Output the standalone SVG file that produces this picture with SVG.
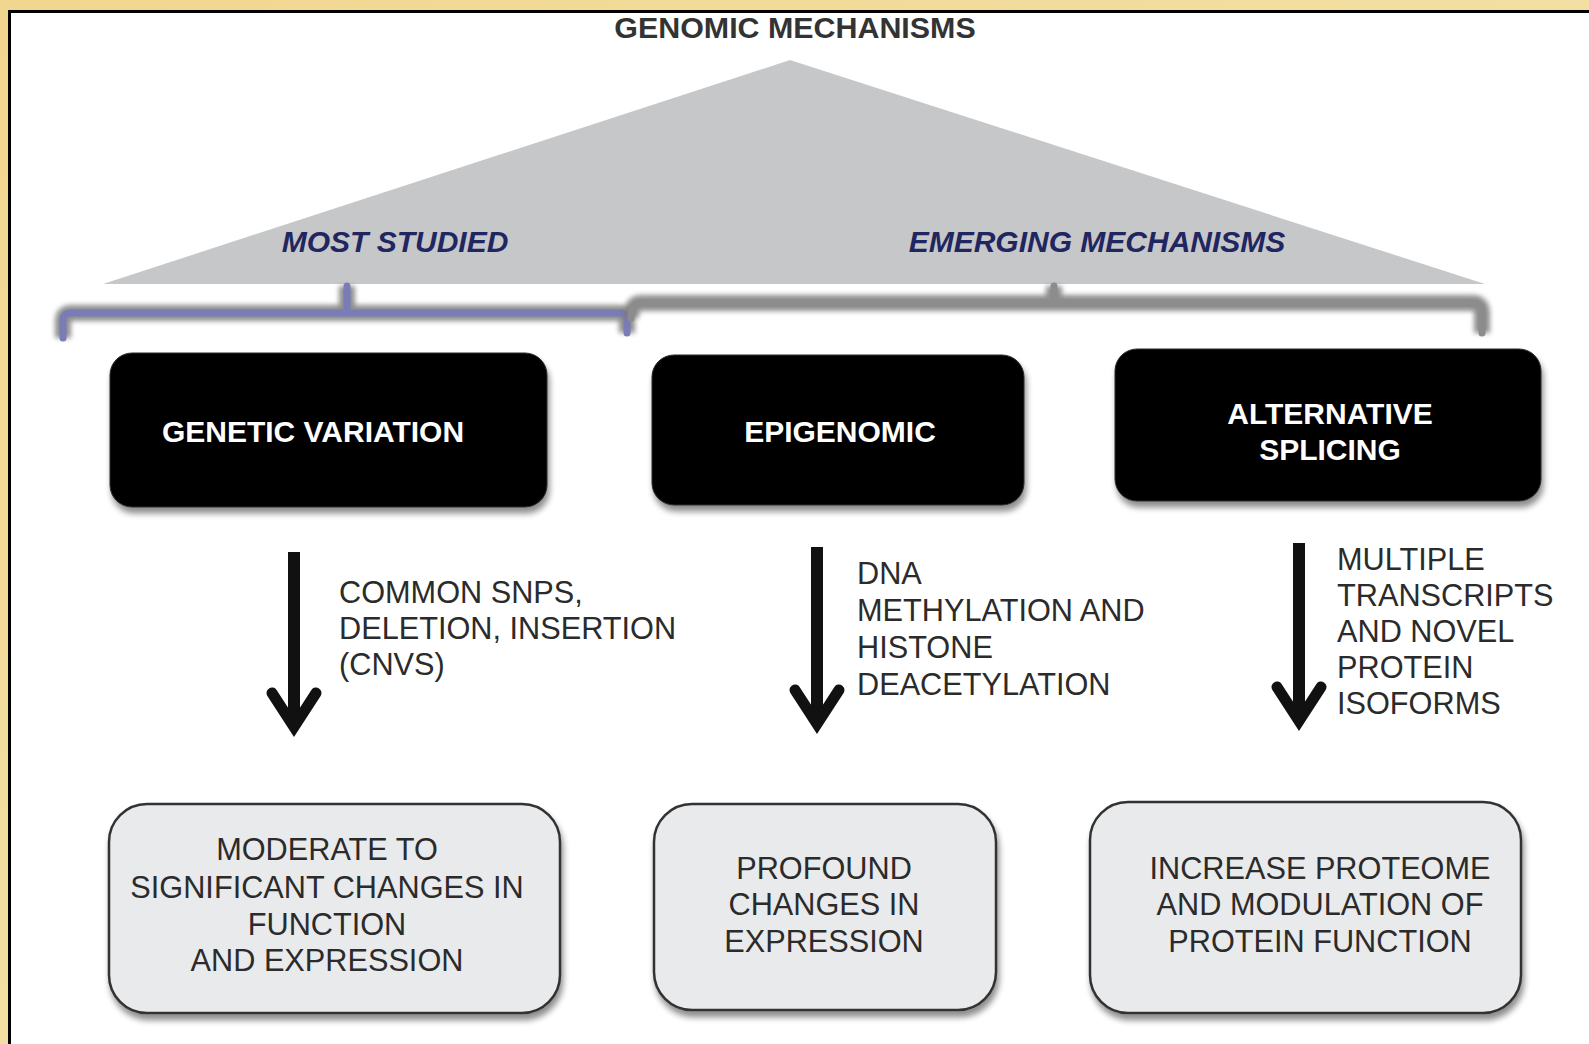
<svg xmlns="http://www.w3.org/2000/svg" width="1589" height="1044" viewBox="0 0 1589 1044">
<defs>
<linearGradient id="bg" x1="0" y1="0" x2="1" y2="1">
<stop offset="0" stop-color="#f1d68f"/>
<stop offset="0.5" stop-color="#f3dfa3"/>
<stop offset="1" stop-color="#eecb7c"/>
</linearGradient>
<filter id="sh" x="-10%" y="-10%" width="125%" height="135%">
<feGaussianBlur in="SourceAlpha" stdDeviation="3"/>
<feOffset dx="2" dy="6" result="b"/>
<feComponentTransfer><feFuncA type="linear" slope="0.45"/></feComponentTransfer>
<feMerge><feMergeNode/><feMergeNode in="SourceGraphic"/></feMerge>
</filter>
<filter id="blur" x="-5%" y="-100%" width="110%" height="300%">
<feGaussianBlur stdDeviation="2.5"/>
</filter>
</defs>
<style>
.bold{font-family:"Liberation Sans",Arial,sans-serif;font-weight:bold;font-size:30px}
.reg{font-family:"Liberation Sans",Arial,sans-serif;font-size:30.7px;fill:#2b2b2b}
.it{font-family:"Liberation Sans",Arial,sans-serif;font-weight:bold;font-style:italic;font-size:30px;fill:#1f2660}
.wt{fill:#ffffff}
.blackbox{fill:#060606;stroke:#2a2a2a;stroke-width:1;filter:url(#sh)}
.greybox{fill:#e9eaec;stroke:#333;stroke-width:2.5;filter:url(#sh)}
.arrow{stroke:#111;fill:none;stroke-width:12}
.head{stroke:#111;fill:none;stroke-width:11;stroke-linejoin:miter;stroke-miterlimit:10;stroke-linecap:round}
.brshadow{fill:none;stroke:#7a7a7a;stroke-width:16;filter:url(#blur);opacity:0.85}
</style>
<rect x="0" y="0" width="1589" height="1044" fill="url(#bg)"/>
<rect x="9.5" y="11.5" width="1600" height="1100" fill="#ffffff" stroke="#000" stroke-width="3"/>

<g id="title">
<text class="bold" x="795" y="38" text-anchor="middle" fill="#333" style="font-size:30.4px">GENOMIC MECHANISMS</text>
</g>

<g id="triangle">
<polygon points="103,284 790,60 1485,284" fill="#c6c7c9"/>
<text class="it" x="395" y="252" text-anchor="middle">MOST STUDIED</text>
<text class="it" x="1097" y="252" text-anchor="middle">EMERGING MECHANISMS</text>
</g>

<g id="connectors">
<g id="bracket-most-studied">
<path class="brshadow" d="M63,338 L63,321 Q63,313 71,313 L619,313 Q627,313 627,321 L627,333 M347,286 L347,313"/>
<path d="M63,338 L63,321 Q63,313 71,313 L619,313 Q627,313 627,321 L627,333 M347,286 L347,313" fill="none" stroke="#7a7cb6" stroke-width="7" stroke-linecap="round"/>
</g>
<g id="bracket-emerging">
<path class="brshadow" d="M631,318 Q631,303 641,303 L1473,303 Q1482,303 1482,313 L1482,333 M1054,286 L1054,303"/>
<path d="M631,318 Q631,303 641,303 L1473,303 Q1482,303 1482,313 L1482,333 M1054,286 L1054,303" fill="none" stroke="#8c8c8c" stroke-width="7" stroke-linecap="round"/>
</g>
<g id="arrow1">
<line class="arrow" x1="294" y1="552" x2="294" y2="722"/>
<path class="head" d="M272,693 L294,727 L316,693"/>
</g>
<g id="arrow2">
<line class="arrow" x1="817" y1="547" x2="817" y2="719"/>
<path class="head" d="M795,690 L817,724 L839,690"/>
</g>
<g id="arrow3">
<line class="arrow" x1="1299" y1="543" x2="1299" y2="716"/>
<path class="head" d="M1277,687 L1299,721 L1321,687"/>
</g>
</g>

<g id="node-genetic-variation">
<rect class="blackbox" x="110" y="353" width="437" height="154" rx="22"/>
<text class="bold wt" x="313" y="442" text-anchor="middle">GENETIC VARIATION</text>
</g>
<g id="node-epigenomic">
<rect class="blackbox" x="652" y="355" width="372" height="150" rx="22"/>
<text class="bold wt" x="840" y="442" text-anchor="middle">EPIGENOMIC</text>
</g>
<g id="node-alternative-splicing">
<rect class="blackbox" x="1115" y="349" width="426" height="152" rx="22"/>
<text class="bold wt" x="1330" y="424" text-anchor="middle">ALTERNATIVE</text>
<text class="bold wt" x="1330" y="460" text-anchor="middle">SPLICING</text>
</g>

<g id="label-genetic">
<text class="reg" x="339" y="603">COMMON SNPS,</text>
<text class="reg" x="339" y="639">DELETION, INSERTION</text>
<text class="reg" x="339" y="675">(CNVS)</text>
</g>
<g id="label-epigenomic">
<text class="reg" x="857" y="584">DNA</text>
<text class="reg" x="857" y="621">METHYLATION AND</text>
<text class="reg" x="857" y="658">HISTONE</text>
<text class="reg" x="857" y="695">DEACETYLATION</text>
</g>
<g id="label-splicing">
<text class="reg" x="1337" y="570">MULTIPLE</text>
<text class="reg" x="1337" y="606">TRANSCRIPTS</text>
<text class="reg" x="1337" y="642">AND NOVEL</text>
<text class="reg" x="1337" y="678">PROTEIN</text>
<text class="reg" x="1337" y="714">ISOFORMS</text>
</g>

<g id="node-moderate">
<rect class="greybox" x="109" y="804" width="451" height="209" rx="38"/>
<text class="reg" x="327" y="860" text-anchor="middle">MODERATE TO</text>
<text class="reg" x="327" y="898" text-anchor="middle">SIGNIFICANT CHANGES IN</text>
<text class="reg" x="327" y="935" text-anchor="middle">FUNCTION</text>
<text class="reg" x="327" y="971" text-anchor="middle">AND EXPRESSION</text>
</g>
<g id="node-profound">
<rect class="greybox" x="654" y="804" width="342" height="206" rx="38"/>
<text class="reg" x="824" y="879" text-anchor="middle">PROFOUND</text>
<text class="reg" x="824" y="915" text-anchor="middle">CHANGES IN</text>
<text class="reg" x="824" y="952" text-anchor="middle">EXPRESSION</text>
</g>
<g id="node-increase">
<rect class="greybox" x="1090" y="802" width="431" height="211" rx="38"/>
<text class="reg" x="1320" y="879" text-anchor="middle">INCREASE PROTEOME</text>
<text class="reg" x="1320" y="915" text-anchor="middle">AND MODULATION OF</text>
<text class="reg" x="1320" y="952" text-anchor="middle">PROTEIN FUNCTION</text>
</g>
</svg>
